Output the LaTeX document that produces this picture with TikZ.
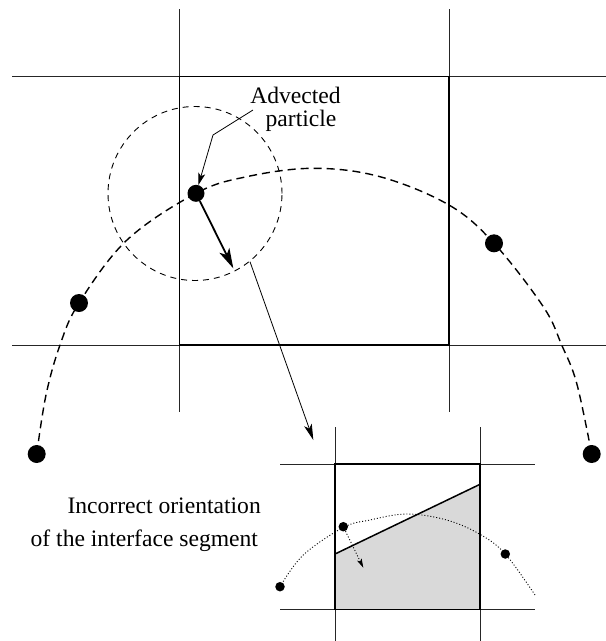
\documentclass[tikz,border=0pt]{standalone}
\usepackage{fontspec}
\setmainfont{Liberation Serif}
\usetikzlibrary{arrows.meta}
\begin{document}
\begin{tikzpicture}[x=1pt,y=-1pt,
  gridline/.style={line width=1pt, black!85},
  cellbox/.style={line width=1.5pt},
  bigdot/.style={circle, fill=black, inner sep=0pt, minimum size=18pt},
  smalldot/.style={circle, fill=black, inner sep=0pt, minimum size=9.5pt},
  pathdash/.style={line width=1.4pt, dash pattern=on 8pt off 5pt},
  zonedash/.style={line width=0.9pt, dash pattern=on 6pt off 5pt},
  pathdot/.style={line width=0.9pt, dash pattern=on 1pt off 2pt},
  txt/.style={font=\fontsize{23.6}{34}\selectfont, inner sep=0pt},
]
\useasboundingbox (0,0) rectangle (606,641);

% main grid
\draw[gridline] (179.5,9) -- (179.5,412);
\draw[gridline] (449,9) -- (449,412);
\draw[gridline] (12,76.7) -- (606,76.7);
\draw[gridline] (12,345) -- (606,345);
\draw[cellbox] (179.5,76.7) rectangle (449,345);

% neighbourhood circle
\draw[zonedash] (195,193.5) circle[radius=87pt];

% interface path
\draw[pathdash] plot[smooth, tension=0.6] coordinates {
  (36.7,454) (46,395) (60,345) (79,303) (127,240) (196,193.3)
  (246.7,176.7) (313.3,168.3) (380,176.7) (449,205) (494,243.3)
  (543.3,306.7) (561.7,345) (576.7,383.3) (591.7,454)};

% particles
\node[bigdot] (p1) at (36.7,454) {};
\node[bigdot] (p2) at (79,303) {};
\node[bigdot, minimum size=17pt] (p3) at (196,193.3) {};
\node[bigdot] (p4) at (494,243.3) {};
\node[bigdot] (p5) at (591.7,454) {};

% label and arrows
\node[txt, anchor=base] (adv) at (295.5,103.3) {Advected};
\node[txt, anchor=base] (part) at (301,126.7) {particle};
\coordinate (lblstart) at (253,110);
\coordinate (lblbend) at (213,135);
\draw[line width=0.8pt, -{Stealth[length=12pt,width=7pt,inset=3pt]}] (lblstart) -- (lblbend) -- (p3);

\coordinate (vtip) at (233.3,268.3);
\draw[line width=1.8pt, -{Stealth[length=20pt,width=11pt,inset=5pt]}] (p3) -- (vtip);

\coordinate (zoomstart) at (250,261.7);
\coordinate (zoomend) at (313.3,440);
\draw[line width=0.8pt, -{Stealth[length=16pt,width=8pt,inset=4pt]}] (zoomstart) -- (zoomend);

% inset
\fill[black!15] (335,554) -- (480,484.3) -- (480,609.3) -- (335,609.3) -- cycle;
\draw[gridline] (335,427) -- (335,641);
\draw[gridline] (480,427) -- (480,641);
\draw[gridline] (280,464) -- (535,464);
\draw[gridline] (280,609.3) -- (535,609.3);
\draw[cellbox] (335,464) rectangle (480,609.3);
\draw[line width=1.5pt] (335,554) -- (480,484.3);

\draw[pathdot] plot[smooth, tension=0.6] coordinates {
  (280,586.7) (303.3,555) (343.3,527.5) (370,520) (407,514)
  (446.7,520) (480,534.3) (505.3,554) (535,595)};

\node[smalldot] (q1) at (280,586.7) {};
\node[smalldot] (q2) at (343.3,526.7) {};
\node[smalldot] (q3) at (505.3,554) {};
\coordinate (qtip) at (363.3,567.7);
\draw[pathdot, -{Stealth[length=9pt,width=5pt,inset=2pt]}] (q2) -- (qtip);

\node[txt, anchor=base east] (inc1) at (261,513.3) {Incorrect orientation};
\node[txt, anchor=base east] (inc2) at (258.2,546.7) {of the interface segment};
\end{tikzpicture}
\end{document}
